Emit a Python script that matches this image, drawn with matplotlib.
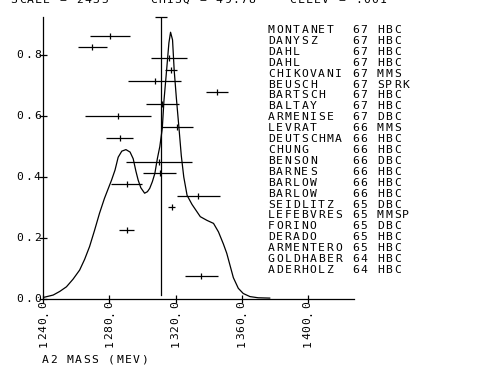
import matplotlib
matplotlib.use('Agg')
import matplotlib.pyplot as plt
import matplotlib.transforms as mtransforms

# ideogram curve (mass in MeV, height)
curve_m = [1240, 1246, 1250, 1254, 1258, 1262, 1265, 1268, 1271, 1274, 1277, 1279.5,
           1281.3, 1283.4, 1285.3, 1287.5, 1290, 1292.5, 1294.4, 1296, 1297.4, 1299,
           1301.3, 1303, 1304.4, 1306, 1307.5, 1309, 1310.5, 1312, 1313, 1314.6, 1316,
           1317, 1318.2, 1319.2, 1320.5, 1322.2, 1323.5, 1325, 1327, 1330, 1335, 1339,
           1343, 1346, 1349, 1351, 1353, 1355, 1358, 1361, 1365, 1370, 1377]
curve_h = [0.005, 0.013, 0.025, 0.04, 0.065, 0.095, 0.13, 0.172, 0.225, 0.281, 0.33, 0.365,
           0.39, 0.423, 0.465, 0.485, 0.49, 0.482, 0.46, 0.42, 0.39, 0.365,
           0.347, 0.352, 0.363, 0.385, 0.412, 0.46, 0.50, 0.56, 0.65, 0.75, 0.84,
           0.875, 0.85, 0.75, 0.66, 0.554, 0.47, 0.40, 0.34, 0.31, 0.27, 0.258,
           0.248, 0.22, 0.18, 0.15, 0.11, 0.07, 0.035, 0.018, 0.008, 0.004, 0.003]

# individual measurements: mass, error, row height
meas_m = [1280.3, 1269.6, 1316.0, 1317.2, 1307.5, 1345.1, 1312.1, 1285.3, 1321.0,
          1286.3, 1310.1, 1310.5, 1290.4, 1333.7, 1317.6, 1290.4, 1335.7]
meas_e = [11.9, 8.9, 10.8, 3.8, 16.1, 6.4, 10.1, 19.9, 9.8,
          8.1, 20.1, 9.9, 9.6, 13.1, 2.0, 4.7, 10.1]
meas_y = [0.863, 0.827, 0.789, 0.751, 0.715, 0.678, 0.638, 0.600, 0.563,
          0.527, 0.450, 0.412, 0.377, 0.339, 0.303, 0.226, 0.076]

# weighted mean
mean_m = 1311.4
mean_top = 0.925

names = ['MONTANET', 'DANYSZ', 'DAHL', 'DAHL', 'CHIKOVANI', 'BEUSCH', 'BARTSCH',
         'BALTAY', 'ARMENISE', 'LEVRAT', 'DEUTSCHMA', 'CHUNG', 'BENSON', 'BARNES',
         'BARLOW', 'BARLOW', 'SEIDLITZ', 'LEFEBVRES', 'FORINO', 'DERADO',
         'ARMENTERO', 'GOLDHABER', 'ADERHOLZ']
years = [67, 67, 67, 67, 67, 67, 67, 67, 67, 66, 66, 66, 66, 66, 66, 66,
         65, 65, 65, 65, 65, 64, 64]
dets = ['HBC', 'HBC', 'HBC', 'HBC', 'MMS', 'SPRK', 'HBC', 'HBC', 'DBC', 'MMS',
        'HBC', 'HBC', 'DBC', 'HBC', 'HBC', 'HBC', 'DBC', 'MMSP', 'DBC', 'HBC',
        'HBC', 'HBC', 'HBC']

xticks = [1240, 1280, 1320, 1360, 1400]
yticks = [0.0, 0.2, 0.4, 0.6, 0.8]
header = 'SCALE = 2435     CHISQ = 49.78    CLLEV = .001'
xlabel = 'A2 MASS (MEV)'

W, H = 489, 371
fig = plt.figure(figsize=(W / 100, H / 100), dpi=100)
ax = fig.add_axes([43.3 / W, (H - 299) / H, 310.7 / W, 282 / H])
ax.set_xlim(1240, 1428)
ax.set_ylim(0, mean_top)

FONT = dict(family='DejaVu Sans Mono', size=8.2, color='k')
LW = 0.9


def mono(x, y, s, trans, pitch, rot=0):
    # plotter style: every character in its own fixed cell
    for i, c in enumerate(s):
        if c == ' ':
            continue
        dx, dy = (i * pitch, 0) if rot == 0 else (0, i * pitch)
        t = mtransforms.offset_copy(trans, fig=fig, x=dx, y=dy, units='dots')
        ax.text(x, y, c, transform=t, ha='center', va='center', rotation=rot, **FONT)


def px_text(x, y, s, pitch):
    # x, y in pixels from the top left corner
    mono(x / W, 1 - y / H, s, fig.transFigure, pitch)


ax.plot(curve_m, curve_h, color='k', lw=LW)
ax.errorbar(meas_m, meas_y, xerr=meas_e, fmt='none', ecolor='k', elinewidth=LW, capsize=0)
ax.plot(meas_m, meas_y, '|', color='k', ms=5, mew=LW)
ax.plot([mean_m, mean_m], [0.012, mean_top], color='k', lw=LW)
ax.plot([mean_m], [mean_top], '_', color='k', ms=8.5, mew=LW, clip_on=False)

for s in ['top', 'right']:
    ax.spines[s].set_visible(False)
for s in ['left', 'bottom']:
    ax.spines[s].set_linewidth(LW)
ax.set_xticks(xticks)
ax.set_yticks(yticks)
ax.tick_params(direction='inout', length=6, width=LW, labelbottom=False, labelleft=False)

# tick labels
for m in xticks:
    s = '%.1f' % m
    n = len(s)
    for i, c in enumerate(s):
        t = mtransforms.offset_copy(ax.transData, fig=fig, x=0, y=-6 - (n - 1 - i) * 7.7, units='dots')
        ax.text(m, 0, c, transform=t, ha='center', va='center', rotation=90, **FONT)
for v in yticks:
    s = '%.1f' % v
    n = len(s)
    for i, c in enumerate(s):
        t = mtransforms.offset_copy(ax.transData, fig=fig, x=-6 - (n - 1 - i) * 8.7, y=0, units='dots')
        ax.text(1240, v, c, transform=t, ha='center', va='center', **FONT)

px_text(45, 360, xlabel, 8.3)
# run header, only its lower edge falls inside the sheet
px_text(14, -0.3, header, 8.2)

for k in range(len(names)):
    row = '%-10s%d %s' % (names[k], years[k], dets[k])
    px_text(271.2, 30 + k * 10.91, row, 8.4)

fig.savefig('out.png', dpi=100)
